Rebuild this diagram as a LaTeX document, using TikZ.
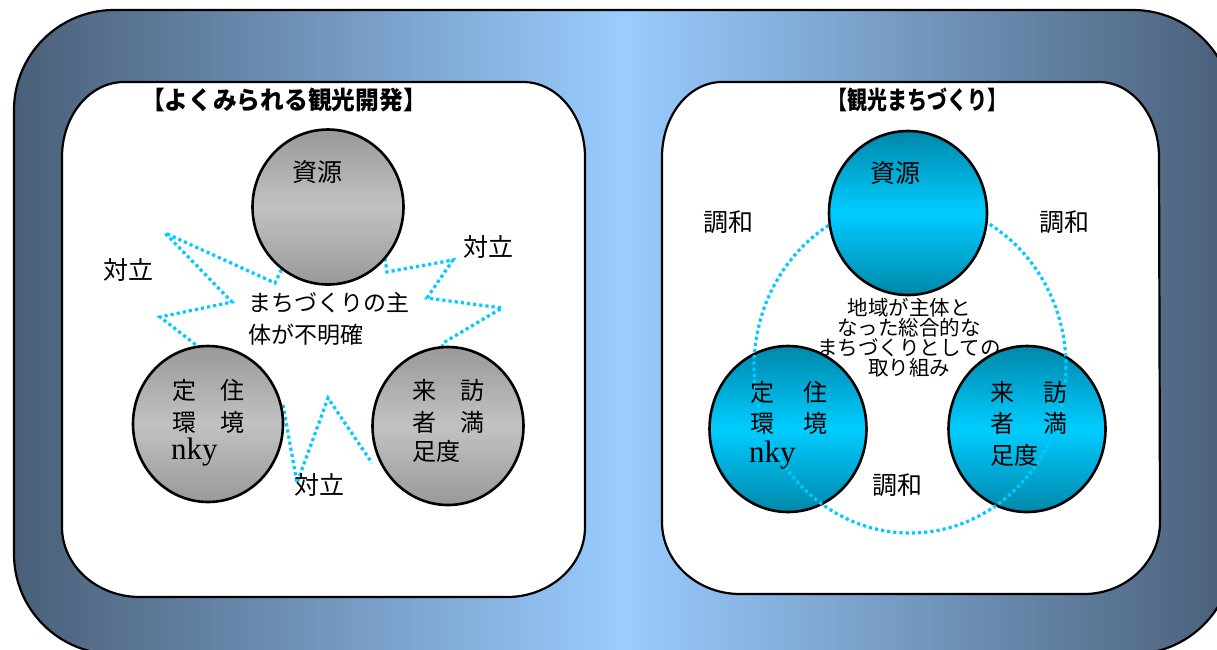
\documentclass[tikz,border=0pt]{standalone}
\usepackage{fontspec}
\usepackage{graphicx}
\usetikzlibrary{shapes.geometric}
\newfontfamily\jp{Noto Sans CJK JP}
\newfontfamily\lserif{Liberation Serif}
\definecolor{slate}{HTML}{4A5F78}
\definecolor{skyb}{HTML}{99CCFF}
\definecolor{dotc}{HTML}{00CCFF}
\definecolor{cydark}{HTML}{0088AA}
\definecolor{cymid}{HTML}{00CCFF}
\definecolor{gdark}{HTML}{999999}
\definecolor{glight}{HTML}{C2C2C2}
\begin{document}
\begin{tikzpicture}[x=1pt,y=-1pt,
  boxline/.style={draw=black, line width=2.2pt, fill=white},
  grayball/.style={ellipse, draw=black, line width=2.6pt, top color=gdark, bottom color=gdark, middle color=glight, inner sep=0pt},
  cyanball/.style={ellipse, draw=black, line width=2.6pt, top color=cydark, bottom color=cydark, middle color=cymid, inner sep=0pt},
  dotline/.style={draw=dotc, line width=3.2pt, dash pattern=on 3.2pt off 3pt},
  lbl/.style={font=\jp\fontsize{25}{30}\selectfont, inner sep=0pt},
  ctxt/.style={font=\jp\fontsize{24}{30}\selectfont, inner sep=0pt, anchor=west},
  serif/.style={font=\lserif\fontsize{31}{34}\selectfont, inner sep=0pt, anchor=west},
  ttl/.style={font=\jp\bfseries\fontsize{25}{30}\selectfont, inner sep=0pt}
]
\useasboundingbox (0,0) rectangle (1217,649);
% outer frame
\shadedraw[left color=slate, right color=slate, middle color=skyb, draw=black, line width=2.2pt, rounded corners=100pt] (14,10) rectangle (1233,654);
% inner boxes
\path[boxline] (124,82) -- (523,82) arc[start angle=-90, end angle=0, x radius=62, y radius=75]
  -- (585,527) arc[start angle=0, end angle=90, x radius=78, y radius=70]
  -- (140,597) arc[start angle=90, end angle=180, x radius=78, y radius=70]
  -- (62,157) arc[start angle=180, end angle=270, x radius=62, y radius=75] -- cycle;
\path[boxline] (722,82) -- (1099,82) arc[start angle=-90, end angle=0, x radius=60, y radius=75]
  -- (1160,522) arc[start angle=0, end angle=90, x radius=76, y radius=72]
  -- (740,594) arc[start angle=90, end angle=180, x radius=78, y radius=72]
  -- (662,157) arc[start angle=180, end angle=270, x radius=60, y radius=75] -- cycle;
% titles
\node[ttl] (ltitle) at (284,100) {\scalebox{0.95}[1]{【よくみられる観光開発】}};
\node[ttl] (rtitle) at (917,100) {\scalebox{0.8}[1]{【観光まちづくり】}};
% left star
\draw[dotline] (284,264) -- (275,283) -- (165,233) -- (232,302) -- (160,317) -- (218,362);
\draw[dotline] (283,405) -- (297,483) -- (328,398) -- (372,463);
\draw[dotline] (384,252) -- (387,272) -- (453,260) -- (427,298) -- (502,308) -- (443,343) -- (441,356);
% left circles
\node[grayball, minimum width=151pt, minimum height=155pt] (lres) at (328,207) {};
\node[grayball, minimum width=150pt, minimum height=156pt] (lset) at (208,424) {};
\node[grayball, minimum width=151pt, minimum height=158pt] (lvis) at (448,426) {};
% left texts
\node[lbl] (lresT) at (317,172) {資源};
\node[ctxt] (lsetA) at (172,390) {定\hspace{24pt}住};
\node[ctxt] (lsetB) at (172,422) {環\hspace{24pt}境};
\node[serif] (lsetC) at (171,452) {nky};
\node[ctxt] (lvisA) at (412,390) {来\hspace{24pt}訪};
\node[ctxt] (lvisB) at (412,422) {者\hspace{24pt}満};
\node[ctxt] (lvisC) at (412,451) {足度};
\node[lbl] (lopp1) at (128,270) {対立};
\node[lbl] (lopp2) at (488,247) {対立};
\node[lbl] (lopp3) at (319,485) {対立};
\node[font=\jp\fontsize{23}{32}\selectfont, inner sep=0pt, anchor=west, align=left] (lmid) at (248,319) {まちづくりの主\\体が不明確};
% right circles
\node[cyanball, minimum width=157pt, minimum height=166pt] (rset) at (788,429) {};
\node[cyanball, minimum width=157pt, minimum height=166pt] (rvis) at (1027,429) {};
\draw[dotline] (910,367) ellipse[x radius=156, y radius=166];
\node[cyanball, minimum width=158pt, minimum height=164pt] (rres) at (908,213) {};
% right texts
\node[lbl] (rresT) at (895,173) {資源};
\node[ctxt] (rsetA) at (750,392) {定\hspace{29pt}住};
\node[ctxt] (rsetB) at (750,423) {環\hspace{29pt}境};
\node[serif] (rsetC) at (749,455) {nky};
\node[ctxt] (rvisA) at (990,392) {来\hspace{29pt}訪};
\node[ctxt] (rvisB) at (990,423) {者\hspace{29pt}満};
\node[ctxt] (rvisC) at (990,455) {足度};
\node[lbl] (rh1) at (728,222) {調和};
\node[lbl] (rh2) at (1064,222) {調和};
\node[lbl] (rh3) at (897,485) {調和};
\node[font=\jp\fontsize{20.5}{20}\selectfont, inner sep=0pt, align=center] (rmid) at (909,338) {地域が主体と\\なった総合的な\\まちづくりとしての\\取り組み};
\end{tikzpicture}
\end{document}
